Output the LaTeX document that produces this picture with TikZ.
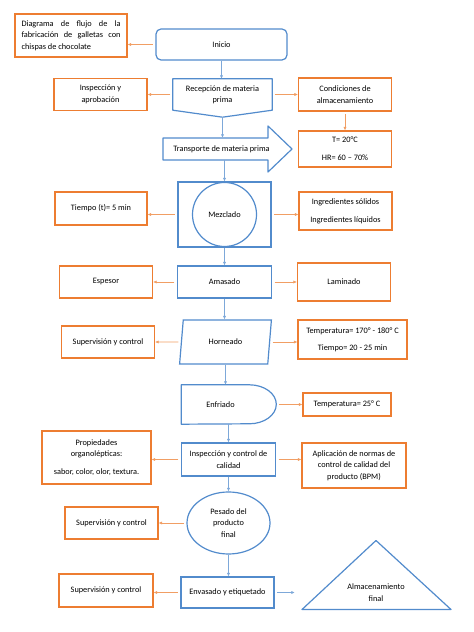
\documentclass[tikz,border=0pt]{standalone}
\usepackage{fontspec}
\setmainfont{Carlito}
\usepackage{tikz}
\usetikzlibrary{shapes.geometric, arrows.meta, calc}
\definecolor{azul}{RGB}{82,139,204}
\definecolor{naranja}{RGB}{237,125,49}
\tikzstyle{arrow} = [-{Latex[length=3.5pt, width=3.2pt]}, line width=0.6pt]
\tikzstyle{flechaazul} = [arrow, azul!75]
\tikzstyle{flechanaranja} = [arrow, naranja!75, shorten <=2.5pt]
\tikzstyle{proceso} = [draw=azul, line width=1.2pt, align=center, inner sep=0pt, minimum width=94pt, minimum height=32pt]
\tikzstyle{nota} = [draw=naranja, line width=1.2pt, align=center, inner sep=0pt, minimum width=93pt, minimum height=32pt]
\tikzstyle{libre} = [align=center, inner sep=0pt]
\tikzstyle{contorno} = [draw=azul, line width=1.2pt, line join=round]

\begin{document}
\begin{tikzpicture}[font=\fontsize{8.3}{11.4}\selectfont, node distance=122pt]
	\useasboundingbox (0,0) rectangle (474pt,632pt);

	% columna central
	\node (inicio) [proceso, rounded corners=5pt, minimum width=131pt, minimum height=31pt] at (221.5pt,587.5pt) {Inicio};
	\node (recep) [libre, node distance=50pt, below of=inicio, xshift=1pt, minimum width=99pt, minimum height=31pt] {Recepción de materia\\prima};
	\node (trans) [libre, node distance=54.5pt, below of=recep, xshift=-1pt, minimum height=22pt] {Transporte de materia prima};
	\node (mezcla) [proceso, node distance=65.5pt, below of=trans, xshift=3pt, minimum width=93pt, minimum height=65pt] {};
	\node (mezclado) [circle, draw=azul, line width=1.2pt, minimum size=64pt, inner sep=0pt] at (mezcla) {Mezclado};
	\node (amasado) [proceso, node distance=67.5pt, below of=mezcla] {Amasado};
	\node (horneado) [proceso, trapezium, trapezium left angle=76, trapezium right angle=104, trapezium stretches=true, minimum width=92pt, minimum height=44pt, node distance=60pt, below of=amasado, xshift=1pt] {Horneado};
	\node (enfriado) [libre, node distance=62.5pt, below of=horneado, xshift=-5pt, minimum width=78pt, minimum height=39pt] {Enfriado};
	\node (calidad) [proceso, node distance=55pt, below of=enfriado, xshift=8pt, minimum height=33pt] {Inspección y control de\\calidad};
	\node (pesado) [proceso, ellipse, node distance=63.5pt, below of=calidad, minimum width=83pt, minimum height=62pt] {Pesado del\\producto\\final};
	\node (envasado) [proceso, node distance=69.5pt, below of=pesado, xshift=-1pt, minimum width=93pt, minimum height=31pt] {Envasado y etiquetado};
	\node (almacen) [libre, node distance=148.5pt, right of=envasado, minimum width=162pt] {Almacenamiento\\final};

	% notas laterales
	\node (titulo) [nota, node distance=150.5pt, left of=inicio, yshift=9pt, minimum width=112pt, minimum height=43pt, text width=99pt, align=justify] {Diagrama de flujo de la\linebreak fabricación de galletas con\linebreak chispas de chocolate};
	\node (inspeccion) [nota, left of=recep] {Inspección y\\aprobación};
	\node (condiciones) [nota, node distance=122.5pt, right of=recep, minimum height=33pt] {Condiciones de\\almacenamiento};
	\node (valores) [nota, node distance=54.5pt, below of=condiciones, minimum height=36pt] {T= 20°C\\[6.5pt]HR= 60 – 70\%};
	\node (tiempo) [nota, node distance=123.5pt, left of=mezcla, yshift=6pt, minimum width=92pt, minimum height=33pt] {Tiempo (t)= 5 min};
	\node (ingredientes) [nota, node distance=121pt, right of=mezcla, yshift=3.5pt, minimum height=38pt] {Ingredientes sólidos\\[6.5pt]Ingredientes líquidos};
	\node (espesor) [nota, node distance=118.5pt, left of=amasado] {Espesor};
	\node (laminado) [nota, node distance=119.5pt, right of=amasado, minimum height=38pt] {Laminado};
	\node (supervision1) [nota, node distance=117.5pt, left of=horneado] {Supervisión y control};
	\node (temphorno) [nota, node distance=127pt, right of=horneado, yshift=2.5pt, minimum width=109pt, minimum height=39pt] {Temperatura= 170° - 180° C\\[5.5pt]Tiempo= 20 - 25 min};
	\node (temp25) [nota, node distance=126.5pt, right of=enfriado, minimum width=88pt, minimum height=23pt] {Temperatura= 25° C};
	\node (organolep) [nota, node distance=132pt, left of=calidad, yshift=2pt, minimum width=109pt, minimum height=53pt] {Propiedades\\organolépticas:\\[6.5pt]sabor, color, olor, textura.};
	\node (normas) [nota, node distance=125.5pt, right of=calidad, yshift=-6pt, minimum width=104pt, minimum height=45pt] {Aplicación de normas de\\control de calidad del\\producto (BPM)};
	\node (supervision2) [nota, node distance=117pt, left of=pesado] {Supervisión y control};
	\node (supervision3) [nota, node distance=121.5pt, left of=envasado, yshift=2pt, minimum width=94pt, minimum height=33pt] {Supervisión y control};

	% contornos de las formas especiales
	\draw [contorno] (recep.north west) -- (recep.north east) -- (recep.south east) -- ($(recep.south)+(0,-7pt)$) coordinate (recepPunta) -- (recep.south west) -- cycle;
	\draw [contorno] (trans.center) ++(-58.5pt,11pt) -- ++(105pt,0) -- ++(0,12pt) -- ++(24pt,-23pt) -- ++(-24pt,-23pt) -- ++(0,12pt) -- ++(-105pt,0) -- cycle;
	\draw [contorno] (enfriado.north west) -- ++(68pt,0) arc[start angle=90, end angle=-90, x radius=27pt, y radius=19.5pt] -- (enfriado.south west) -- cycle;
	\coordinate (enfriadoPunta) at ($(enfriado.east)+(17pt,0)$);
	\draw [contorno] (almacen.center) ++(0,52pt) -- ++(75pt,-69pt) -- ++(-149pt,0) -- cycle;

	% conectores
	\draw [flechanaranja] (inicio.west) -- (inicio.west -| titulo.east);
	\draw [flechaazul] (inicio.south) -- (inicio.south |- recep.north);
	\draw [flechanaranja] (recep.west) -- (inspeccion.east);
	\draw [flechanaranja] (recep.east) -- (condiciones.west);
	\draw [flechanaranja] (condiciones.south) -- (valores.north);
	\draw [flechaazul] (recepPunta) -- (recepPunta |- trans.north);
	\draw [flechaazul] (mezcla.north |- trans.south) -- (mezcla.north);
	\draw [flechanaranja] (mezcla.west) -- (mezcla.west -| tiempo.east);
	\draw [flechanaranja] (mezcla.east) -- (mezcla.east -| ingredientes.west);
	\draw [flechaazul] (mezcla.south) -- (mezcla.south |- amasado.north);
	\draw [flechanaranja] (amasado.west) -- (espesor.east);
	\draw [flechanaranja] (amasado.east) -- (laminado.west);
	\draw [flechaazul] (amasado.south) -- (amasado.south |- horneado.north);
	\draw [flechanaranja] (horneado.west) -- (supervision1.east);
	\draw [flechanaranja] (horneado.east) -- (horneado.east -| temphorno.west);
	\draw [flechaazul] (horneado.south) -- (horneado.south |- enfriado.north);
	\draw [flechanaranja] (enfriadoPunta) -- (temp25.west);
	\draw [flechaazul] (calidad.north |- enfriado.south) -- (calidad.north);
	\draw [flechanaranja] (calidad.west) -- (calidad.west -| organolep.east);
	\draw [flechanaranja] (calidad.east) -- (calidad.east -| normas.west);
	\draw [flechaazul] (calidad.south) -- (pesado.north);
	\draw [flechanaranja] (pesado.west) -- (supervision2.east);
	\draw [flechaazul] (pesado.south) -- (pesado.south |- envasado.north);
	\draw [flechanaranja] (envasado.west) -- (envasado.west -| supervision3.east);
	\draw [flechaazul, shorten <=2.5pt] (envasado.east) -- (almacen.west);
\end{tikzpicture}
\end{document}
